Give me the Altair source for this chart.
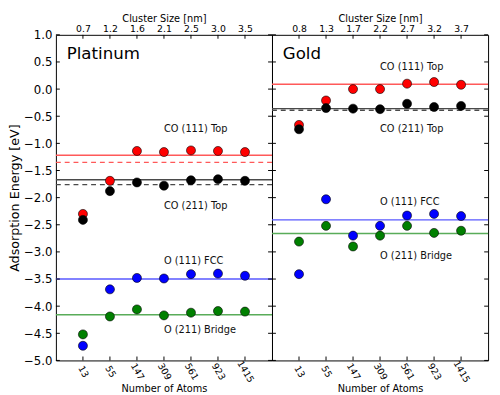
import json
import altair as alt
import pandas as pd

# ---------------- data ----------------
atoms = ["13", "55", "147", "309", "561", "923", "1415"]
atom_index = [0, 1, 2, 3, 4, 5, 6]
pt_sizes = ["0.7", "1.2", "1.6", "2.1", "2.5", "3.0", "3.5"]
au_sizes = ["0.8", "1.3", "1.7", "2.2", "2.7", "3.2", "3.7"]

series = ["CO (111) Top", "CO (211) Top", "O (111) FCC", "O (211) Bridge"]
point_colors = ["#ff0000", "#000000", "#0000ff", "#008000"]
line_colors = ["#ff5959", "#4a4a4a", "#5959ff", "#59ac59"]

pt_co111 = [-2.30, -1.69, -1.14, -1.16, -1.13, -1.14, -1.16]
pt_co211 = [-2.41, -1.88, -1.72, -1.78, -1.68, -1.66, -1.69]
pt_o111 = [-4.73, -3.69, -3.48, -3.49, -3.41, -3.40, -3.44]
pt_o211 = [-4.52, -4.19, -4.06, -4.17, -4.12, -4.09, -4.10]

au_co111 = [-0.66, -0.21, 0.00, 0.00, 0.10, 0.13, 0.08]
au_co211 = [-0.74, -0.35, -0.36, -0.37, -0.27, -0.33, -0.31]
au_o111 = [-3.41, -2.03, -2.70, -2.52, -2.33, -2.30, -2.34]
au_o211 = [-2.81, -2.52, -2.90, -2.70, -2.52, -2.65, -2.61]

pt_solid = [-1.22, -1.67, -3.50, -4.16]
pt_dashed = [-1.35, -1.76]
pt_dashed_colors = ["#ff5959", "#4a4a4a"]
au_solid = [0.09, -0.36, -2.41, -2.66]
au_dashed = [-0.39]
au_dashed_colors = ["#4a4a4a"]

pt_label_y = [-0.74, -2.15, -3.16, -4.44]
au_label_y = [0.40, -0.74, -2.09, -3.08]
label_x = 3
name_x = -0.6
name_y = 0.64

y_ticks = [-5.0, -4.5, -4.0, -3.5, -3.0, -2.5, -2.0, -1.5, -1.0, -0.5, 0.0, 0.5, 1.0]

W_LEFT = 221
W_RIGHT = 221
H = 333
FONT = "DejaVu Sans"


def panel(name, sizes, vals, solid, dashed, dashed_colors, label_y, width, show_y):
    xs = alt.Scale(domain=[-1, 7], nice=False, zero=False)
    ys = alt.Scale(domain=[-5, 1], nice=False, zero=False)

    rows = []
    for s, v in zip(series, vals):
        for i, val in zip(atom_index, v):
            rows.append({"idx": i, "value": val, "series": s})
    pts = pd.DataFrame(rows)

    solid_df = pd.DataFrame({"y": solid, "c": line_colors})
    dashed_df = pd.DataFrame({"y": dashed, "c": dashed_colors})
    lab_df = pd.DataFrame({"x": [label_x] * 4, "y": label_y, "t": series})
    name_df = pd.DataFrame({"x": [name_x], "y": [name_y], "t": [name]})
    yt_df = pd.DataFrame({"y": y_ticks})
    xt_df = pd.DataFrame({"idx": atom_index})

    if show_y:
        y_axis = alt.Axis(values=y_ticks, format=".1f", title="Adsorption Energy [eV]",
                          ticks=False, domain=False, grid=False, labelFontSize=12,
                          titleFontSize=13, labelPadding=4, titlePadding=2)
    else:
        y_axis = None

    def Y(field):
        return alt.Y(field, scale=ys, axis=y_axis)

    bottom_axis = alt.Axis(values=atom_index, labelExpr=json.dumps(atoms) + "[datum.value]",
                           title="Number of Atoms", labelAngle=60, labelAlign="center",
                           labelBaseline="middle", labelPadding=11, ticks=False,
                           domain=False, grid=False, labelFontSize=9.5, titleFontSize=10,
                           titlePadding=0)
    top_axis = alt.Axis(orient="top", values=atom_index,
                        labelExpr=json.dumps(sizes) + "[datum.value]",
                        title="Cluster Size [nm]", ticks=False, domain=False, grid=False,
                        labelFontSize=9.5, titleFontSize=10, labelPadding=1,
                        titleY=-12, titleBaseline="bottom")

    solid_lines = alt.Chart(solid_df).mark_rule(strokeWidth=1.5).encode(
        y=Y("y:Q"),
        color=alt.Color("c:N", scale=None),
    )
    dashed_lines = alt.Chart(dashed_df).mark_rule(strokeWidth=1.5, strokeDash=[5, 4]).encode(
        y=Y("y:Q"),
        color=alt.Color("c:N", scale=None),
    )
    points = alt.Chart(pts).mark_point(filled=True, shape="circle", size=85, opacity=1,
                                       stroke="black", strokeWidth=0.6).encode(
        x=alt.X("idx:Q", scale=xs, axis=bottom_axis),
        y=Y("value:Q"),
        fill=alt.Fill("series:N", scale=alt.Scale(domain=series, range=point_colors), legend=None),
    )
    labels = alt.Chart(lab_df).mark_text(align="left", baseline="middle", fontSize=10,
                                         font=FONT, color="#111111").encode(
        x=alt.X("x:Q", scale=xs, axis=None),
        y=Y("y:Q"),
        text="t:N",
    )
    title_txt = alt.Chart(name_df).mark_text(align="left", baseline="middle", fontSize=17,
                                             font=FONT, color="black").encode(
        x=alt.X("x:Q", scale=xs, axis=None),
        y=Y("y:Q"),
        text="t:N",
    )
    yt_left = alt.Chart(yt_df).mark_rule(color="black", strokeWidth=1).encode(
        y=Y("y:Q"), x=alt.value(0), x2=alt.value(4))
    yt_right = alt.Chart(yt_df).mark_rule(color="black", strokeWidth=1).encode(
        y=Y("y:Q"), x=alt.value(width - 4), x2=alt.value(width))
    xt_bottom = alt.Chart(xt_df).mark_rule(color="black", strokeWidth=1).encode(
        x=alt.X("idx:Q", scale=xs, axis=None), y=alt.value(H - 4), y2=alt.value(H))
    xt_top = alt.Chart(xt_df).mark_rule(color="black", strokeWidth=1).encode(
        x=alt.X("idx:Q", scale=xs, axis=top_axis), y=alt.value(0), y2=alt.value(4))

    return alt.layer(
        solid_lines, dashed_lines, points, labels, title_txt,
        yt_left, yt_right, xt_bottom, xt_top,
    ).resolve_axis(x="independent").properties(width=width, height=H)


pt = panel("Platinum", pt_sizes, [pt_co111, pt_co211, pt_o111, pt_o211],
           pt_solid, pt_dashed, pt_dashed_colors, pt_label_y, W_LEFT, True)
au = panel("Gold", au_sizes, [au_co111, au_co211, au_o111, au_o211],
           au_solid, au_dashed, au_dashed_colors, au_label_y, W_RIGHT, False)

chart = alt.hconcat(pt, au, spacing=0, bounds="flush").properties(
    padding={"left": 0, "top": 0, "right": 2, "bottom": 0}
).configure_view(
    stroke="black", strokeWidth=1
).configure_axis(
    labelFont=FONT, titleFont=FONT, labelColor="black", titleColor="black",
    titleFontWeight="normal"
).configure_text(font=FONT)

chart.save("out.html", embed_options={"renderer": "svg", "actions": False})
